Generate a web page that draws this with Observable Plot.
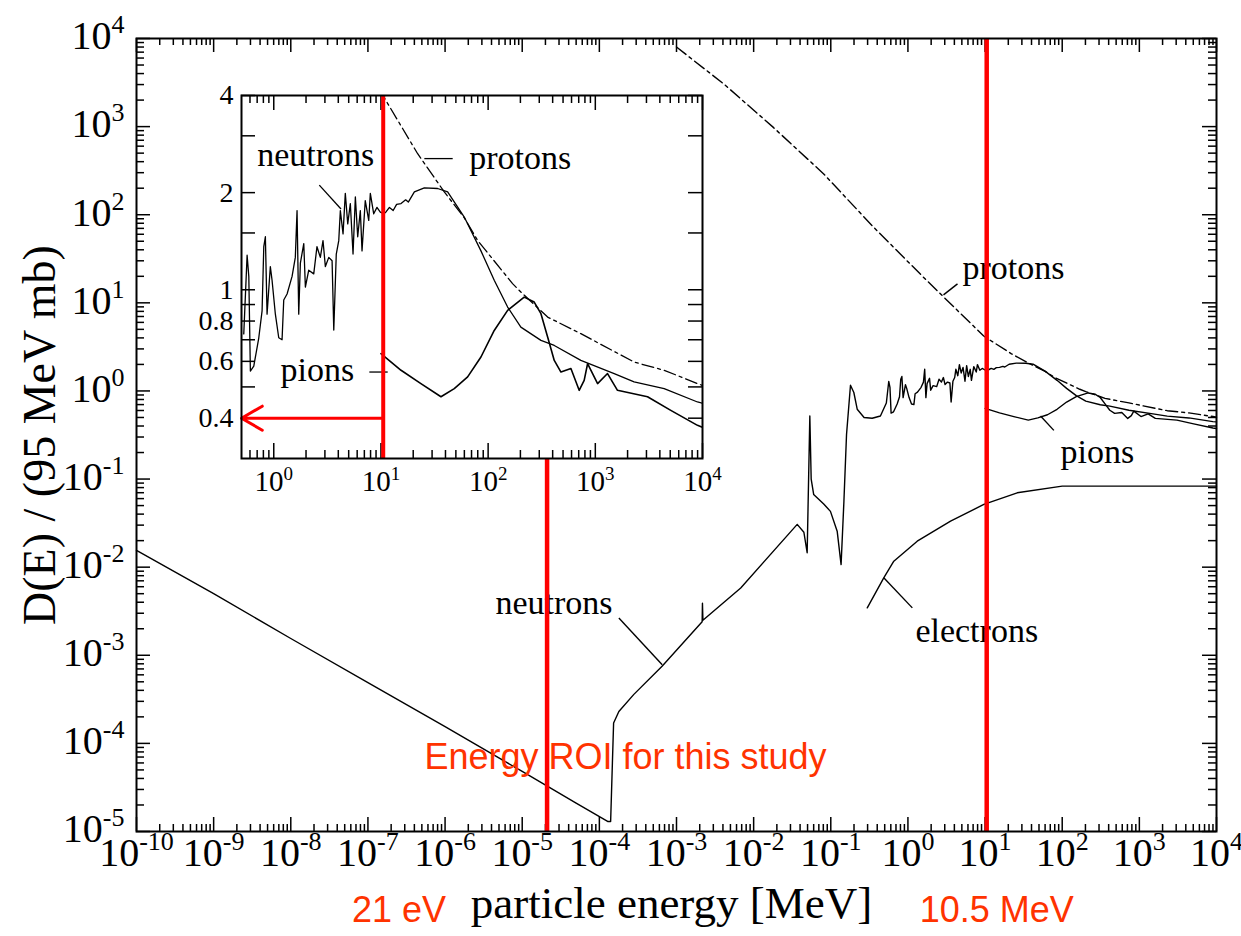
<!DOCTYPE html>
<html><head><meta charset="utf-8">
<script src="https://cdn.jsdelivr.net/npm/d3@7"></script>
<script src="https://cdn.jsdelivr.net/npm/@observablehq/plot@0.6"></script>
<style>
body{margin:0;background:#fff;}
#wrap{position:relative;width:1241px;height:936px;}
#wrap svg{position:absolute;overflow:visible;}
</style>
</head><body><div id="wrap"></div>
<script>
const SERIF = "'Liberation Serif','DejaVu Serif',serif";
const SANS = "'Liberation Sans',Arial,sans-serif";

// ---- data: [energy MeV, D(E)/(95 MeV mb)] ----
const neutrons = [
  [1e-10,0.0155],[1e-9,5.0e-3],[1e-8,1.55e-3],[1e-7,4.9e-4],[1e-6,1.55e-4],[1e-5,4.8e-5],[5e-5,2.1e-5],
  [1.28e-4,1.3e-5],[1.40e-4,1.3e-5],[1.53e-4,1.7e-4],[1.79e-4,2.3e-4],[2.8e-4,3.6e-4],[6.5e-4,7.5e-4],
  [2.15e-3,2.4e-3],[2.17e-3,3.9e-3],[2.2e-3,2.5e-3],[6.8e-3,5.8e-3],[0.0367,0.0306],[0.0448,0.0249],
  [0.0494,0.0146],[0.0535,0.52],[0.0557,0.10],[0.060,0.067],[0.081,0.052],[0.099,0.043],[0.121,0.0256],
  [0.136,0.0107],[0.148,0.056],[0.160,0.32],[0.180,1.16],[0.199,0.96],[0.220,0.62],[0.27,0.50],[0.344,0.49],[0.44,0.52],
  [0.525,0.73],[0.564,1.28],[0.585,1.10],[0.605,0.56],[0.651,0.58],[0.725,0.71],[0.778,0.86],[0.807,1.36],
  [0.835,1.46],[0.866,0.84],[0.929,1.18],[0.964,1.07],[1.035,0.84],[1.113,0.71],[1.195,0.70],[1.239,0.93],
  [1.331,0.97],[1.482,1.10],[1.589,1.26],[1.649,1.76],[1.710,0.84],[1.771,1.21],[1.905,1.39],[1.972,1.02],
  [2.12,1.15],[2.36,1.12],[2.53,1.36],[2.72,1.26],[2.88,1.42],[3.03,1.18],[3.26,1.26],[3.50,1.23],[3.63,0.75],
  [3.83,1.29],[4.04,1.42],[4.18,1.76],[4.43,1.49],[4.65,1.99],[4.90,1.60],[5.18,1.85],[5.49,1.29],[5.77,1.94],
  [6.07,1.46],[6.42,1.76],[6.66,1.32],[7.14,1.89],[7.69,1.64],[7.96,1.99],[8.56,1.72],[9.18,1.80],[9.86,1.74],
  [10.6,1.72],[11.1,1.74],[12,1.80],[13,1.76],[14,1.84],[15.4,1.85],[17,1.90],[18,1.87],[20.5,2.01],[25.4,2.07],
  [33.8,2.06],[41.9,2.01],[59.9,1.68],[85.7,1.32],[114,1.07],[152,0.884],[202,0.766],[311,0.697],[414,0.672],
  [733,0.604],[1500,0.55],[2300,0.518],[4390,0.494],[8980,0.449],[10000,0.445]
];
const protons = [
  [1.0e-3,8000],[4.1e-3,3050],[0.018,980],[0.081,290],[0.36,72],[1.6,19.4],[9.6,4.2],[11.6,3.77],[22,2.64],
  [39,2.01],[60,1.67],[80,1.42],[169,1.045],[202,0.984],[359,0.823],[733,0.731],[2300,0.597],[4390,0.563],
  [9000,0.512],[10000,0.505]
];
const pions = [
  [10.0,0.634],[15.4,0.563],[23.6,0.512],[36.3,0.466],[48.3,0.494],[64.4,0.537],[85.7,0.619],[114,0.748],
  [152,0.863],[217,0.949],[269,0.916],[311,0.843],[359,0.714],[414,0.604],[478,0.556],[592,0.570],[707,0.488],
  [787,0.524],[847,0.590],[1050,0.512],[1300,0.55],[1610,0.488],[3070,0.466],[5060,0.423],[8980,0.38],[10000,0.375]
];
const electrons = [
  [0.297,3.45e-3],[0.486,7.57e-3],[0.656,0.0117],[1.32,0.0197],[3.57,0.0333],[9.64,0.0515],[26.1,0.0698],
  [100,0.0832],[1000,0.0832],[10000,0.0832]
];

// ---- axes / ticks ----
const mainXExp = [-10,-9,-8,-7,-6,-5,-4,-3,-2,-1,0,1,2,3,4];
const mainYExp = [-5,-4,-3,-2,-1,0,1,2,3,4];
const insetXExp = [0,1,2,3,4];
const insetXLow = [0.6,0.7,0.8,0.9];
const insetYLabels = [4,2,1,0.8,0.6,0.4];
const insetYTicks = [0.4,0.5,0.6,0.7,0.8,0.9,1,1.5,2,3,4];
const minorMult = [2,3,4,5,6,7,8,9];

// ---- annotations (data coordinates) ----
const roiLow = {x: 2.1e-5, y1: 1e-5, y2: 0.17, text: "21 eV"};
const roiHigh = {x: 10.5, text: "10.5 MeV"};
const roiText = {x: 2.18e-4, y: 6.9e-5, text: "Energy ROI for this study"};
const mainLabels = [
  {name: "protons", x: 5.1, y: 24.5, side: "start"},
  {name: "pions", x: 95, y: 0.2, side: "start"},
  {name: "electrons", x: 1.25, y: 1.9e-3, side: "start"},
  {name: "neutrons", x: 1.48e-4, y: 3.87e-3, side: "end"}
];
const mainLeaders = [
  [2.89,12.3,4.39,16.4],[52.4,0.52,77.9,0.357],[0.486,7.57e-3,1.14,3.45e-3],[1.79e-4,2.65e-3,6.53e-4,7.8e-4]
];
const insetLabels = [
  {name: "neutrons", x: 8.67, y: 2.61, side: "end"},
  {name: "protons", x: 66.7, y: 2.55, side: "start"},
  {name: "pions", x: 5.64, y: 0.563, side: "end"}
];
const insetLeaders = [[2.66,2.11,4.24,1.78],[25.4,2.55,46.7,2.55],[7.79,0.556,11.56,0.556]];
const insetArrow = [{x1: 10.5, x2: 0.5, y: 0.4}];

const minorOf = exps => exps.slice(0,-1).flatMap(e => minorMult.map(k => k * 10 ** e));

function frameTicks(xMaj, xMin, yMaj, yMin, fw, fh, xMajLen, xMinLen, yMajLen, yMinLen) {
  const s = {stroke: "black", strokeWidth: 1.5};
  return [
    Plot.tickX(xMaj, {x: d => d, insetTop: fh - xMajLen, ...s}),
    Plot.tickX(xMaj, {x: d => d, insetBottom: fh - xMajLen, ...s}),
    Plot.tickX(xMin, {x: d => d, insetTop: fh - xMinLen, ...s}),
    Plot.tickX(xMin, {x: d => d, insetBottom: fh - xMinLen, ...s}),
    Plot.tickY(yMaj, {y: d => d, insetRight: fw - yMajLen, ...s}),
    Plot.tickY(yMaj, {y: d => d, insetLeft: fw - yMajLen, ...s}),
    Plot.tickY(yMin, {y: d => d, insetRight: fw - yMinLen, ...s}),
    Plot.tickY(yMin, {y: d => d, insetLeft: fw - yMinLen, ...s})
  ];
}

function superscripts(svg, expSize, rise) {
  const ns = "http://www.w3.org/2000/svg";
  svg.querySelectorAll("text").forEach(t => {
    const m = /^10\^(-?\d+)$/.exec(t.textContent);
    if (!m) return;
    t.textContent = "";
    const a = document.createElementNS(ns, "tspan"); a.textContent = "10";
    const b = document.createElementNS(ns, "tspan"); b.textContent = m[1];
    b.setAttribute("dy", -rise); b.setAttribute("font-size", expSize);
    t.append(a, b);
  });
}

// ---- main chart ----
const MW = 1241, MH = 936, ML = 136, MR = 25, MT = 38, MB = 105;
const MFW = MW - ML - MR, MFH = MH - MT - MB;
const lineStyle = {x: d => d[0], y: d => d[1], stroke: "black", strokeWidth: 1.4};

const main = Plot.plot({
  width: MW, height: MH, marginLeft: ML, marginRight: MR, marginTop: MT, marginBottom: MB,
  x: {type: "log", domain: [1e-10, 1e4], axis: null},
  y: {type: "log", domain: [1e-5, 1e4], axis: null},
  style: {background: "white", overflow: "visible"},
  marks: [
    ...frameTicks(mainXExp.map(e => 10 ** e), minorOf(mainXExp), mainYExp.map(e => 10 ** e), minorOf(mainYExp), MFW, MFH, 14, 7, 14, 8),
    Plot.line(neutrons, lineStyle),
    Plot.line(pions, lineStyle),
    Plot.line(electrons, lineStyle),
    Plot.line(protons, {...lineStyle, strokeDasharray: "12,4,3,4"}),
    Plot.link(mainLeaders, {x1: d => d[0], y1: d => d[1], x2: d => d[2], y2: d => d[3], stroke: "black", strokeWidth: 1.4}),
    Plot.text(mainLabels, {filter: d => d.side === "start", x: "x", y: "y", text: "name", textAnchor: "start", fontSize: 34, fontFamily: SERIF}),
    Plot.text(mainLabels, {filter: d => d.side === "end", x: "x", y: "y", text: "name", textAnchor: "end", fontSize: 34, fontFamily: SERIF}),
    Plot.text([roiText], {x: "x", y: "y", text: "text", fill: "#ff3300", fontSize: 36, fontFamily: SANS}),
    Plot.ruleX([roiLow], {x: "x", y1: "y1", y2: "y2", stroke: "#ff0000", strokeWidth: 4.5}),
    Plot.ruleX([roiHigh], {x: "x", stroke: "#ff0000", strokeWidth: 4.5}),
    Plot.text(mainXExp, {x: e => 10 ** e, text: e => `10^${e}`, frameAnchor: "bottom", dy: 34, fontSize: 40, fontFamily: SERIF}),
    Plot.text(mainYExp, {y: e => 10 ** e, text: e => `10^${e}`, frameAnchor: "left", textAnchor: "end", dx: -12, dy: -2, fontSize: 40, fontFamily: SERIF}),
    Plot.text(["particle energy [MeV]"], {frameAnchor: "bottom", textAnchor: "middle", dy: 86, dx: -5, fontSize: 45, fontFamily: SERIF}),
    Plot.text(["D(E) / (95 MeV mb)"], {frameAnchor: "left", textAnchor: "middle", dx: -96, rotate: -90, fontSize: 46, fontFamily: SERIF}),
    Plot.text([roiLow], {x: "x", text: "text", frameAnchor: "bottom", textAnchor: "end", dx: -101, dy: 90, fill: "#ff3300", fontSize: 36, fontFamily: SANS}),
    Plot.text([roiHigh], {x: "x", text: "text", frameAnchor: "bottom", textAnchor: "start", dx: -67, dy: 90, fill: "#ff3300", fontSize: 36, fontFamily: SANS}),
    Plot.frame({stroke: "black", strokeWidth: 2})
  ]
});
superscripts(main, 26, 16);
main.style.left = "0px"; main.style.top = "0px";

// ---- inset ----
const IX = 170, IY = 60;
const IW = 562, IH = 448, IL = 71, IR = 30, IT = 35, IB = 50;
const IFW = IW - IL - IR, IFH = IH - IT - IB;
const insetMinorX = insetXLow.concat(minorOf(insetXExp));

const inset = Plot.plot({
  width: IW, height: IH, marginLeft: IL, marginRight: IR, marginTop: IT, marginBottom: IB,
  x: {type: "log", domain: [0.5, 1e4], axis: null},
  y: {type: "log", domain: [0.3, 4], axis: null},
  style: {background: "transparent", overflow: "visible"},
  marks: [
    Plot.frame({fill: "white", stroke: "none"}),
    ...frameTicks(insetXExp.map(e => 10 ** e), insetMinorX, insetYTicks, [], IFW, IFH, 15, 8, 14, 14),
    Plot.line(neutrons.filter(d => d[0] >= 0.5), {...lineStyle, strokeWidth: 1.3, clip: true}),
    Plot.line(pions, {...lineStyle, strokeWidth: 1.6, clip: true}),
    Plot.line(protons.filter(d => d[0] >= 9), {...lineStyle, strokeWidth: 1.3, strokeDasharray: "12,4,3,4", clip: true}),
    Plot.link(insetLeaders, {x1: d => d[0], y1: d => d[1], x2: d => d[2], y2: d => d[3], stroke: "black", strokeWidth: 1.3}),
    Plot.text(insetLabels, {filter: d => d.side === "start", x: "x", y: "y", text: "name", textAnchor: "start", fontSize: 34, fontFamily: SERIF}),
    Plot.text(insetLabels, {filter: d => d.side === "end", x: "x", y: "y", text: "name", textAnchor: "end", fontSize: 34, fontFamily: SERIF}),
    Plot.ruleX([roiHigh], {x: "x", stroke: "#ff0000", strokeWidth: 4}),
    Plot.arrow(insetArrow, {x1: "x1", x2: "x2", y1: "y", y2: "y", stroke: "#ff0000", strokeWidth: 3, headLength: 12}),
    Plot.text(insetXExp, {x: e => 10 ** e, text: e => `10^${e}`, frameAnchor: "bottom", dy: 32, fontSize: 29, fontFamily: SERIF}),
    Plot.text(insetYLabels, {y: d => d, text: d => String(d), frameAnchor: "left", textAnchor: "end", dx: -8, fontSize: 28, fontFamily: SERIF}),
    Plot.frame({stroke: "black", strokeWidth: 2})
  ]
});
superscripts(inset, 19, 11);
inset.style.left = IX + "px"; inset.style.top = IY + "px";

const wrap = document.getElementById("wrap");
wrap.append(main, inset);
</script>
</body></html>
